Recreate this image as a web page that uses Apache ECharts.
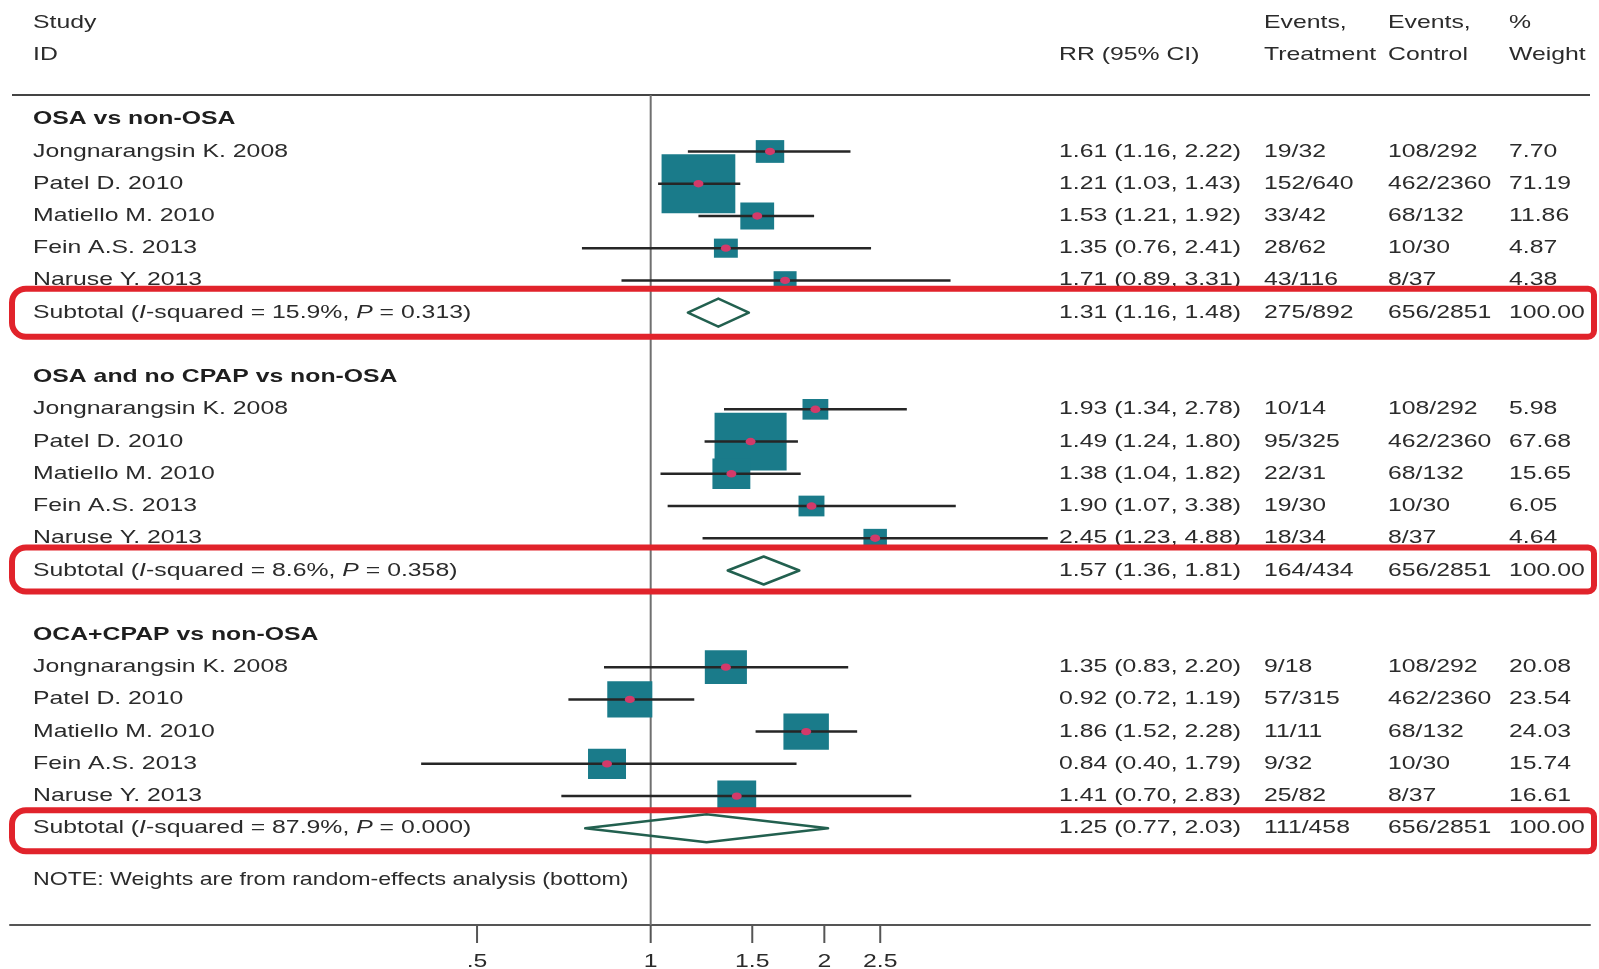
<!DOCTYPE html>
<html><head><meta charset="utf-8">
<script src="https://cdn.jsdelivr.net/npm/echarts@6/dist/echarts.min.js"></script>
<style>html,body{margin:0;padding:0;background:#fff}#c{width:1599px;height:969px}</style>
</head><body><div id="c"></div>
<script>
// ---------------- data ----------------
const groupTitles = ['OSA vs non-OSA', 'OSA and no CPAP vs non-OSA', 'OCA+CPAP vs non-OSA'];
const studyNames = ['Jongnarangsin K. 2008', 'Patel D. 2010', 'Matiello M. 2010', 'Fein A.S. 2013', 'Naruse Y. 2013'];

const rrG1 = [1.61, 1.21, 1.53, 1.35, 1.71];
const loG1 = [1.16, 1.03, 1.21, 0.76, 0.89];
const hiG1 = [2.22, 1.43, 1.92, 2.41, 3.31];
const treatG1 = ['19/32', '152/640', '33/42', '28/62', '43/116'];
const ctrlG1 = ['108/292', '462/2360', '68/132', '10/30', '8/37'];
const weightG1 = [7.70, 71.19, 11.86, 4.87, 4.38];

const rrG2 = [1.93, 1.49, 1.38, 1.90, 2.45];
const loG2 = [1.34, 1.24, 1.04, 1.07, 1.23];
const hiG2 = [2.78, 1.80, 1.82, 3.38, 4.88];
const treatG2 = ['10/14', '95/325', '22/31', '19/30', '18/34'];
const ctrlG2 = ['108/292', '462/2360', '68/132', '10/30', '8/37'];
const weightG2 = [5.98, 67.68, 15.65, 6.05, 4.64];

const rrG3 = [1.35, 0.92, 1.86, 0.84, 1.41];
const loG3 = [0.83, 0.72, 1.52, 0.40, 0.70];
const hiG3 = [2.20, 1.19, 2.28, 1.79, 2.83];
const treatG3 = ['9/18', '57/315', '11/11', '9/32', '25/82'];
const ctrlG3 = ['108/292', '462/2360', '68/132', '10/30', '8/37'];
const weightG3 = [20.08, 23.54, 24.03, 15.74, 16.61];

const subRR = [1.31, 1.57, 1.25];
const subLo = [1.16, 1.36, 0.77];
const subHi = [1.48, 1.81, 2.03];
const subTreat = ['275/892', '164/434', '111/458'];
const subCtrl = ['656/2851', '656/2851', '656/2851'];
const subWeight = [100.00, 100.00, 100.00];
const subI2 = ['15.9%', '8.6%', '87.9%'];
const subP = ['0.313', '0.358', '0.000'];

const xTicks = [0.5, 1, 1.5, 2, 2.5];
const xTickLabels = ['.5', '1', '1.5', '2', '2.5'];
const headerLine1 = ['Study', '', 'Events,', 'Events,', '%'];
const headerLine2 = ['ID', 'RR (95% CI)', 'Treatment', 'Control', 'Weight'];
const noteText = 'NOTE: Weights are from random-effects analysis (bottom)';

// ---------------- layout / style ----------------
const COLX = [33, 1059, 1264, 1388, 1509];
const FONT = '"Liberation Sans", Arial, Helvetica, sans-serif';
const FS = 18.5, SX = 1.34, NOTE_SX = 1.25;
const TXT = '#2b2b2b', TXT_B = '#1e1e1e';
const RULE_ROW = -0.75, AXIS_ROW = 25, NOTE_ROW = 23.6;
const BOX_PAD = [[-24, 24], [-23, 21], [-18, 23]];

const groups = [
  {rr: rrG1, lo: loG1, hi: hiG1, tr: treatG1, ct: ctrlG1, w: weightG1},
  {rr: rrG2, lo: loG2, hi: hiG2, tr: treatG2, ct: ctrlG2, w: weightG2},
  {rr: rrG3, lo: loG3, hi: hiG3, tr: treatG3, ct: ctrlG3, w: weightG3}
];

const fmtCI = (a, b, c) => a.toFixed(2) + ' (' + b.toFixed(2) + ', ' + c.toFixed(2) + ')';

// build tables
const studyData = [];
const subData = [];
const textItems = [];
headerLine1.forEach((t, k) => { if (t) textItems.push({row: -3, x: COLX[k], text: t}); });
headerLine2.forEach((t, k) => { if (t) textItems.push({row: -2, x: COLX[k], text: t}); });
groups.forEach((g, gi) => {
  const base = gi * 8;
  textItems.push({row: base, x: COLX[0], text: groupTitles[gi], bold: true});
  studyNames.forEach((name, i) => {
    const row = base + 1 + i;
    studyData.push([g.rr[i], g.lo[i], g.hi[i], g.w[i], row]);
    textItems.push({row, x: COLX[0], text: name});
    textItems.push({row, x: COLX[1], text: fmtCI(g.rr[i], g.lo[i], g.hi[i])});
    textItems.push({row, x: COLX[2], text: g.tr[i]});
    textItems.push({row, x: COLX[3], text: g.ct[i]});
    textItems.push({row, x: COLX[4], text: g.w[i].toFixed(2)});
  });
  const srow = base + 6;
  subData.push([subRR[gi], subLo[gi], subHi[gi], srow, gi]);
  textItems.push({row: srow, x: COLX[0], text: 'Subtotal ({it|I}-squared = ' + subI2[gi] + ', {it|P} = ' + subP[gi] + ')', rich: true});
  textItems.push({row: srow, x: COLX[1], text: fmtCI(subRR[gi], subLo[gi], subHi[gi])});
  textItems.push({row: srow, x: COLX[2], text: subTreat[gi]});
  textItems.push({row: srow, x: COLX[3], text: subCtrl[gi]});
  textItems.push({row: srow, x: COLX[4], text: subWeight[gi].toFixed(2)});
});
textItems.push({row: NOTE_ROW, x: COLX[0], text: noteText, sx: NOTE_SX});

const boxH = w => 5 + 6.4 * Math.sqrt(w);

const chart = echarts.init(document.getElementById('c'), null, {renderer: 'canvas'});

const option = {
  animation: false,
  backgroundColor: '#fff',
  grid: {left: 10, right: 9, top: 0, bottom: 44},
  xAxis: {
    type: 'log', logBase: 2, min: 0.0775, max: 42.5,
    axisLine: {show: true, onZero: false, lineStyle: {color: '#555', width: 2}},
    axisTick: {show: false}, axisLabel: {show: false}, splitLine: {show: false}
  },
  yAxis: {
    type: 'value', inverse: true, min: -3.7, max: AXIS_ROW, show: false,
    axisLine: {show: false}, splitLine: {show: false}
  },
  series: [
    { // frame: top rule + reference line at 1
      type: 'custom', clip: false, z: 1, silent: true,
      data: [[1, RULE_ROW]],
      renderItem: (p, api) => {
        const top = api.coord([1, RULE_ROW]);
        const bot = api.coord([1, AXIS_ROW]);
        return {type: 'group', children: [
          {type: 'line', shape: {x1: 12, y1: top[1], x2: 1590, y2: top[1]}, style: {stroke: '#444', lineWidth: 2}},
          {type: 'line', shape: {x1: top[0], y1: top[1], x2: bot[0], y2: bot[1]}, style: {stroke: '#707070', lineWidth: 2}}
        ]};
      }
    },
    { // weight boxes
      type: 'custom', clip: false, z: 2, silent: true,
      data: studyData,
      renderItem: (p, api) => {
        const c = api.coord([api.value(0), api.value(4)]);
        const h = boxH(api.value(3)), w = h * 1.25;
        return {type: 'rect', shape: {x: c[0] - w / 2, y: c[1] - h / 2, width: w, height: h}, style: {fill: '#1a7b8a'}};
      }
    },
    { // CI lines
      type: 'custom', clip: false, z: 3, silent: true,
      data: studyData,
      renderItem: (p, api) => {
        const a = api.coord([api.value(1), api.value(4)]);
        const b = api.coord([api.value(2), api.value(4)]);
        return {type: 'line', shape: {x1: a[0], y1: a[1], x2: b[0], y2: b[1]}, style: {stroke: '#262626', lineWidth: 2.5}};
      }
    },
    { // point estimates
      type: 'custom', clip: false, z: 4, silent: true,
      data: studyData,
      renderItem: (p, api) => {
        const c = api.coord([api.value(0), api.value(4)]);
        return {type: 'circle', x: c[0], y: c[1], scaleX: 1.35, shape: {cx: 0, cy: 0, r: 3.7}, style: {fill: '#d33a6a'}};
      }
    },
    { // subtotal diamonds
      type: 'custom', clip: false, z: 4, silent: true,
      data: subData,
      renderItem: (p, api) => {
        const row = api.value(3);
        const c = api.coord([api.value(0), row]);
        const a = api.coord([api.value(1), row]);
        const b = api.coord([api.value(2), row]);
        return {type: 'polygon', shape: {points: [[a[0], c[1]], [c[0], c[1] - 14], [b[0], c[1]], [c[0], c[1] + 14]]},
          style: {fill: 'none', stroke: '#22604f', lineWidth: 2.5, lineJoin: 'round'}};
      }
    },
    { // table text
      type: 'custom', clip: false, z: 5, silent: true,
      data: textItems.map(t => [1, t.row]),
      renderItem: (p, api) => {
        const t = textItems[p.dataIndex];
        const y = api.coord([1, api.value(1)])[1];
        const style = {text: t.text, x: 0, y: 0, fill: t.bold ? TXT_B : TXT, fontFamily: FONT, fontSize: FS,
          fontWeight: t.bold ? 'bold' : 'normal', align: 'left', verticalAlign: 'middle'};
        if (t.rich) style.rich = {it: {fontStyle: 'italic', fontFamily: FONT, fontSize: FS, fill: TXT}};
        return {type: 'text', x: t.x, y: y, scaleX: t.sx || SX, style};
      }
    },
    { // axis ticks and labels
      type: 'custom', clip: false, z: 5, silent: true,
      data: xTicks.map(v => [v, AXIS_ROW]),
      renderItem: (p, api) => {
        const c = api.coord([api.value(0), api.value(1)]);
        return {type: 'group', children: [
          {type: 'line', shape: {x1: c[0], y1: c[1], x2: c[0], y2: c[1] + 18}, style: {stroke: '#555', lineWidth: 2}},
          {type: 'text', x: c[0], y: c[1] + 37, scaleX: SX, style: {text: xTickLabels[p.dataIndex], x: 0, y: 0, fill: TXT,
            fontFamily: FONT, fontSize: FS, align: 'center', verticalAlign: 'middle'}}
        ]};
      }
    },
    { // red annotation boxes around subtotals
      type: 'custom', clip: false, z: 10, silent: true,
      data: subData,
      renderItem: (p, api) => {
        const y = api.coord([1, api.value(3)])[1];
        const pad = BOX_PAD[p.dataIndex];
        return {type: 'rect', shape: {x: 12, y: y + pad[0], width: 1582, height: pad[1] - pad[0], r: [14, 6, 6, 14]},
          style: {fill: 'none', stroke: '#e1232b', lineWidth: 6}};
      }
    }
  ]
};
chart.setOption(option);
</script>
</body></html>
